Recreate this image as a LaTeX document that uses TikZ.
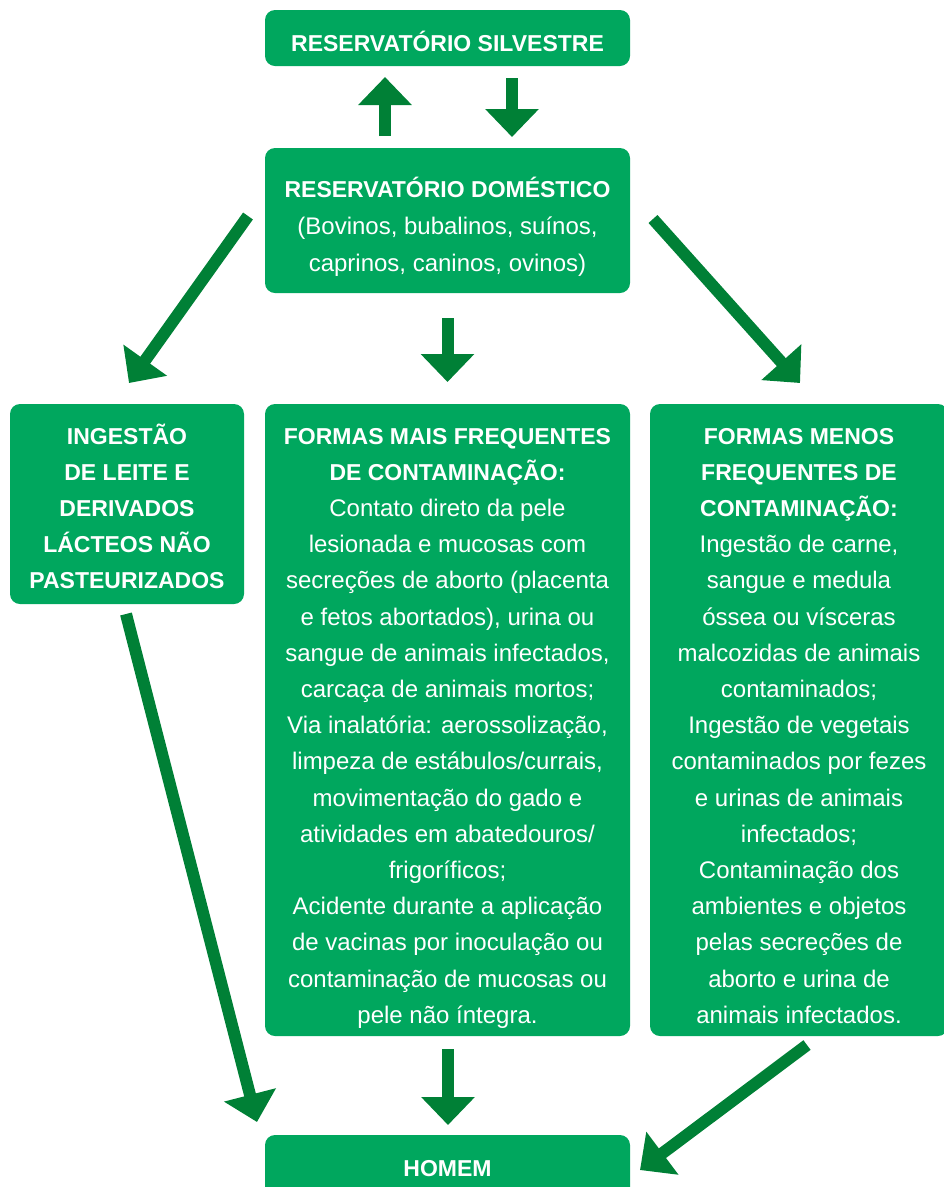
\documentclass[tikz,border=0pt]{standalone}
\usepackage{fontspec}
\setmainfont{Liberation Sans}
\usetikzlibrary{arrows.meta}
\definecolor{boxgreen}{RGB}{0,167,94}
\definecolor{arrowgreen}{RGB}{0,128,54}
\newcommand{\tit}[1]{{\fontsize{23}{36}\selectfont\bfseries #1}}

\begin{document}
\begin{tikzpicture}[x=1pt, y=-1pt,
        greenbox/.style={rectangle, rounded corners=10pt, fill=boxgreen, text=white, inner sep=0pt, align=center, text depth=10pt, font=\fontsize{24}{36.2}\selectfont},
        greenarrow/.style={draw=arrowgreen, line width=12pt, -{Triangle[width=52pt, length=28pt]}}]
        \clip (0, 0) rectangle (944, 1187);
        % boxes
        \node[greenbox, minimum width=365pt, minimum height=56pt, text height=36pt] (silv) at (447.5, 38) {\tit{RESERVATÓRIO SILVESTRE}};
        \node[greenbox, minimum width=365pt, minimum height=145pt, text height=111pt, font=\fontsize{24}{37}\selectfont] (dom) at (447.5, 220.5) {\tit{RESERVATÓRIO DOMÉSTICO}\\(Bovinos, bubalinos, suínos,\\caprinos, caninos, ovinos)};
        \node[greenbox, minimum width=234pt, minimum height=200pt, text height=178pt, font=\fontsize{24}{36}\selectfont] (leite) at (127, 504) {\tit{INGESTÃO}\\\tit{DE LEITE E}\\\tit{DERIVADOS}\\\tit{LÁCTEOS NÃO}\\\tit{PASTEURIZADOS}};
        \node[greenbox, minimum width=365pt, minimum height=632pt, text height=616.4pt] (mais) at (447.5, 720) {\tit{FORMAS MAIS FREQUENTES}\\\tit{DE CONTAMINAÇÃO:}\\Contato direto da pele\\lesionada e mucosas com\\secreções de aborto (placenta\\e fetos abortados), urina ou\\sangue de animais infectados,\\carcaça de animais mortos;\\Via inalatória: aerossolização,\\limpeza de estábulos/currais,\\movimentação do gado e\\atividades em abatedouros/\\frigoríficos;\\Acidente durante a aplicação\\de vacinas por inoculação ou\\contaminação de mucosas ou\\pele não íntegra.};
        \node[greenbox, minimum width=298pt, minimum height=632pt, text height=616.4pt] (menos) at (799, 720) {\tit{FORMAS MENOS}\\\tit{FREQUENTES DE}\\\tit{CONTAMINAÇÃO:}\\Ingestão de carne,\\sangue e medula\\óssea ou vísceras\\malcozidas de animais\\contaminados;\\Ingestão de vegetais\\contaminados por fezes\\e urinas de animais\\infectados;\\Contaminação dos\\ambientes e objetos\\pelas secreções de\\aborto e urina de\\animais infectados.};
        \node[greenbox, minimum width=365pt, minimum height=65pt, text height=27pt] (homem) at (447.5, 1167.5) {\tit{HOMEM}};
        % arrow ends
        \coordinate (upA) at (385, 136);
        \coordinate (upB) at (385, 77);
        \coordinate (dnA) at (512, 78);
        \coordinate (dnB) at (512, 137);
        \coordinate (lA) at (248, 216);
        \coordinate (lB) at (129, 383);
        \coordinate (mA) at (447.5, 318);
        \coordinate (mB) at (447.5, 382);
        \coordinate (rA) at (653, 219);
        \coordinate (rB) at (800, 383);
        \coordinate (hlA) at (126, 614);
        \coordinate (hlB) at (257, 1122);
        \coordinate (hmA) at (448, 1049);
        \coordinate (hmB) at (448, 1125);
        \coordinate (hrA) at (807, 1045);
        \coordinate (hrB) at (640, 1170);
        \foreach \a/\b in {upA/upB, dnA/dnB, lA/lB, mA/mB, rA/rB, hlA/hlB, hmA/hmB, hrA/hrB} {
            \draw[greenarrow] (\a) -- (\b);
        }
    \end{tikzpicture}
\end{document}
